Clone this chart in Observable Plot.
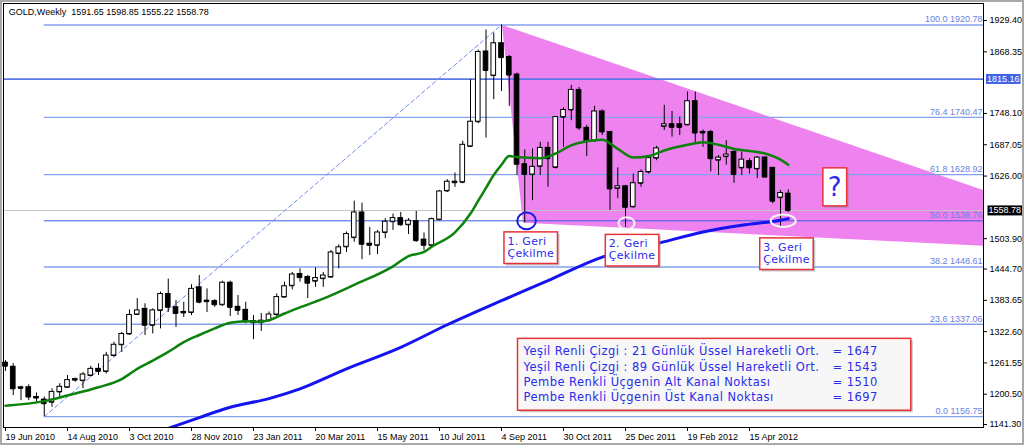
<!DOCTYPE html>
<html><head><meta charset="utf-8">
<script src="https://cdn.jsdelivr.net/npm/d3@7"></script>
<script src="https://cdn.jsdelivr.net/npm/@observablehq/plot@0.6"></script>
<style>
html,body{margin:0;padding:0;background:#fff;}
#chart svg{display:block;outline:2px solid #a8a8a8;outline-offset:-2px;}
</style></head><body><div id="chart"></div>
<script>
// ---------- DATA ----------
const symbolName = "GOLD", timeframe = "Weekly";
const opens = [1262,1254,1212,1214,1195,1190,1185,1205,1214,1228,
 1227,1237,1250,1245,1276,1297,1318,1356,1367,1335,
 1364,1396,1370,1359,1360,1409,1383,1382,1375,1418,
 1371,1365,1343,1340,1344,1356,1390,1412,1435,1429,
 1421,1426,1429,1475,1488,1506,1555,1494,1491,1516,
 1537,1544,1531,1538,1502,1491,1541,1597,1613,1614,
 1684,1732,1869,1822,1885,1858,1824,1649,1629,1645,
 1681,1643,1741,1755,1794,1720,1695,1752,1712,1602,
 1606,1566,1612,1634,1661,1723,1727,1727,1726,1772,
 1710,1712,1657,1664,1673,1642,1655,1640,1662,1642,
 1584,1591.65];
const highs = [1266,1260,1216,1219,1203,1195,1211,1221,1237,1232,
 1243,1255,1260,1282,1302,1321,1365,1387,1377,1367,
 1400,1425,1383,1380,1414,1432,1406,1385,1421,1421,
 1393,1380,1354,1358,1361,1396,1419,1438,1445,1432,
 1447,1438,1481,1492,1517,1577,1573,1526,1520,1543,
 1552,1555,1543,1557,1515,1544,1598,1619,1632,1694,
 1814,1872,1911,1905,1920.78,1861,1827,1677,1679,1692,
 1692,1742,1759,1803,1799,1725,1762,1755,1713,1642,
 1608,1630,1638,1664,1684,1764,1752,1741,1790,1790,
 1716,1715,1666,1695,1676,1673,1660,1664,1664,1643,
 1598,1598.85];
const lows = [1245,1198,1188,1188,1185,1156.75,1175,1192,1213,1224,
 1211,1234,1237,1240,1273,1282,1315,1354,1315,1318,
 1328,1360,1331,1350,1354,1377,1360,1370,1372,1352,
 1354,1338,1307,1323,1341,1352,1388,1404,1419,1387,
 1409,1409,1427,1445,1477,1497,1463,1471,1473,1504,
 1520,1528,1512,1497,1481,1489,1539,1594,1604,1611,
 1682,1728,1700,1775,1791,1762,1627,1535,1578,1627,
 1604,1640,1682,1734,1715,1664,1692,1705,1559,1582,
 1526,1564,1604,1630,1656,1715,1702,1705,1724,1689,
 1682,1634,1627,1647,1612,1627,1630,1621,1622,1572,
 1527,1555.22];
const closes = [1255,1211,1214,1195,1193,1182,1205,1215,1228,1230,
 1239,1250,1245,1276,1297,1318,1355,1364,1335,1364,
 1396,1370,1358,1361,1406,1380,1381,1375,1418,1370,
 1364,1342,1340,1344,1356,1390,1411,1434,1428,1417,
 1427,1432,1477,1487,1513,1555,1493,1491,1516,1537,
 1544,1531,1539,1500,1491,1542,1596,1615,1615,1687,
 1732,1868,1832,1885,1857,1823,1649,1629,1644,1681,
 1660,1741,1755,1794,1720,1694,1752,1712,1601,1606,
 1565,1612,1634,1661,1680,1727,1721,1721,1772,1710,
 1712,1660,1662,1668,1629,1658,1642,1662,1624,1577,
 1593,1558.78];

const dateTickIdx = [0,8,16,24,32,40,48,56,64,72,80,88,96];
const dateLabels = ["19 Jun 2010","14 Aug 2010","3 Oct 2010","28 Nov 2010","23 Jan 2011","20 Mar 2011","15 May 2011","10 Jul 2011","4 Sep 2011","30 Oct 2011","25 Dec 2011","19 Feb 2012","15 Apr 2012"];
const yTicks = [1929.40,1868.35,1748.10,1687.05,1626.00,1503.90,1444.70,1383.65,1322.60,1261.55,1200.50,1141.30];

const fibLevels = [100.0,76.4,61.8,50.0,38.2,23.6,0.0];
const fibPrices = [1920.78,1740.47,1628.92,1538.76,1448.61,1337.06,1156.75];
const fibSwingIdx = [5,64];
const fibSwingPrice = [1156.75,1920.78];
const resistanceLevel = 1815.16;

const triIdx = [64.06,126.3,126.3,66.77];
const triPrice = [1920.78,1598,1490,1535];

const greenIdx = [0,5,8,12,15,17,19,21,23,25,27,29,31,33,34,36,38,41,45,50,52,54,55,58,60,61,62,63,64,65,66,67,69,71,73,75,77,79,81,83,85,88,90,92,94,96,98,99,100,101];
const greenVal = [1178,1187,1198,1214,1230,1250,1266,1283,1302,1316,1329,1340,1343,1342,1345,1358,1370,1387,1414,1450,1470,1478,1488,1516,1553,1578,1603,1628,1648,1665,1663,1662,1661,1670,1686,1694,1697,1679,1662,1665,1676,1687,1692,1687,1679,1675,1670,1665,1658,1648];
const blueIdx = [21,25,29,34,38,44,51,57,64,70,77,84,90,95,100,101];
const blueVal = [1134,1155,1175,1192,1211,1250,1292,1336,1383,1422,1468,1494,1517,1530,1540,1543];

const pullbackIdx = [67,80,100];
const pullbackLabels = ["1. Geri\nÇekilme","2. Geri\nÇekilme","3. Geri\nÇekilme"];
const infoLabels = ["Yeşil Renli Çizgi : 21 Günlük Üssel Hareketli Ort.","Yeşil Renli Çizgi : 89 Günlük Üssel Hareketli Ort.","Pembe Renkli Üçgenin Alt Kanal Noktası","Pembe Renkli Üçgenin Üst Kanal Noktası"];
const infoValues = [1647,1543,1510,1697];
const questionText = "?";

// ---------- BUILD ----------
const candles = opens.map((o,i)=>({i, open:o, high:highs[i], low:lows[i], close:closes[i]}));
const last = candles[candles.length-1];
const fibs = fibLevels.map((l,k)=>({level:l, price:fibPrices[k]}));
const swing = fibSwingIdx.map((x,k)=>({i:x, p:fibSwingPrice[k]}));
const tri = triIdx.map((x,k)=>({i:x, p:triPrice[k]}));
const green = greenIdx.map((x,k)=>({i:x, v:greenVal[k]}));
const blue = blueIdx.map((x,k)=>({i:x, v:blueVal[k]}));
const fib50 = fibPrices[fibLevels.indexOf(50)];
const pullbacks = pullbackIdx.map((x,k)=>({i:x, p:fib50, label:pullbackLabels[k]}));
const header = `${symbolName},${timeframe}  ${last.open.toFixed(2)} ${last.high.toFixed(2)} ${last.low.toFixed(2)} ${last.close.toFixed(2)}`;

const W = 1024, H = 445, mL = 3, mR = 41, mT = 3, mB = 18;
const xMin = -0.258, xMax = 126.19;
const yMin = 1135.6, yMax = 1962.6;
const hw = 0.3;
const annFont = "DejaVu Sans, Verdana, sans-serif";
const annColor = "#2b2bec";

function ellipse(ay){
  return {draw(ctx, size){
    const rx = Math.sqrt(size/Math.PI), ry = rx*ay, k = 0.5523;
    ctx.moveTo(rx,0);
    ctx.bezierCurveTo(rx,ry*k,rx*k,ry,0,ry);
    ctx.bezierCurveTo(-rx*k,ry,-rx,ry*k,-rx,0);
    ctx.bezierCurveTo(-rx,-ry*k,-rx*k,-ry,0,-ry);
    ctx.bezierCurveTo(rx*k,-ry,rx,-ry*k,rx,0);
    ctx.closePath();
  }};
}

const chart = Plot.plot({
  width: W, height: H,
  marginLeft: mL, marginRight: mR, marginTop: mT, marginBottom: mB,
  style: {fontFamily: "'Liberation Sans', Arial, sans-serif", fontSize: "9px", background: "#fff", color: "#000", overflow: "visible"},
  x: {type: "linear", domain: [xMin, xMax]},
  y: {type: "linear", domain: [yMin, yMax]},
  marks: [
    Plot.line(tri, {x: "i", y: "p", fill: "#ee82ee", stroke: "none", clip: true}),
    Plot.ruleY([resistanceLevel], {stroke: "#5b79e6", strokeWidth: 1.6}),
    Plot.ruleY([last.close], {stroke: "#c4c4c4", strokeWidth: 1}),
    Plot.ruleY(fibs, {y: "price", x1: () => fibSwingIdx[0], x2: () => xMax,
      stroke: d => d.level === 50 ? "#3c5ce4" : "#86a0f0", strokeWidth: d => d.level === 50 ? 1 : 1.4}),
    Plot.line(swing, {x: "i", y: "p", stroke: "#6f8eea", strokeWidth: 1, strokeDasharray: "4,3"}),
    Plot.ruleX(candles, {x: "i", y1: "low", y2: "high", stroke: "#000", strokeWidth: 1}),
    Plot.ruleY(candles, {y: "close", x1: d => d.i - hw, x2: d => d.i + hw, stroke: "#000"}),
    Plot.ruleY(candles, {y: "open", x1: d => d.i - hw, x2: d => d.i + hw, stroke: "#000"}),
    Plot.rect(candles, {x1: d => d.i - hw, x2: d => d.i + hw, y1: "open", y2: "close",
      fill: d => d.close >= d.open ? "#fff" : "#000", stroke: "#000", strokeWidth: 1}),
    Plot.line(blue, {x: "i", y: "v", stroke: "#1414f0", strokeWidth: 3, curve: "monotone-x", clip: true}),
    Plot.line(green, {x: "i", y: "v", stroke: "#0b820b", strokeWidth: 2.5, curve: "monotone-x"}),
    Plot.dot(pullbacks.slice(0,1), {x: "i", y: "p", r: 9.3, symbol: ellipse(0.9), dx: 1.8, fill: "none", stroke: "#1a1ae8", strokeWidth: 2}),
    Plot.dot(pullbacks.slice(1,2), {x: "i", y: "p", r: 8, symbol: ellipse(0.75), dx: 1, dy: 2.4, fill: "none", stroke: "#f4f4f4", strokeWidth: 2}),
    Plot.dot(pullbacks.slice(2,3), {x: "i", y: "p", r: 12.5, symbol: ellipse(0.5), dx: 2.7, fill: "none", stroke: "#f4f4f4", strokeWidth: 2}),
    Plot.text(pullbacks.slice(0,1), {x: "i", y: "p", text: "label", dx: -17.3, dy: 15.5, textAnchor: "start", lineAnchor: "top", lineHeight: 1.1, fontSize: 11, fontFamily: annFont, fill: annColor, ariaDescription: "callout"}),
    Plot.text(pullbacks.slice(1,2), {x: "i", y: "p", text: "label", dx: -16.7, dy: 18, textAnchor: "start", lineAnchor: "top", lineHeight: 1.1, fontSize: 11, fontFamily: annFont, fill: annColor, ariaDescription: "callout"}),
    Plot.text(pullbacks.slice(2,3), {x: "i", y: "p", text: "label", dx: -17.3, dy: 21.5, textAnchor: "start", lineAnchor: "top", lineHeight: 1.1, fontSize: 11, fontFamily: annFont, fill: annColor, ariaDescription: "callout"}),
    Plot.text([last], {x: "i", y: "close", text: () => questionText, dx: 46.5, dy: -23, textAnchor: "middle", lineAnchor: "middle", fontSize: 26, fontFamily: annFont, fill: annColor, ariaDescription: "qbox"}),
    Plot.text([infoLabels.join("\n")], {frameAnchor: "top-left", dx: 520, dy: 341, textAnchor: "start", lineAnchor: "top", lineHeight: 1.33, fontSize: 11.5, fontFamily: annFont, fill: annColor, ariaDescription: "info"}),
    Plot.text([infoValues.map(v => "= " + v).join("\n")], {frameAnchor: "top-left", dx: 829, dy: 341, textAnchor: "start", lineAnchor: "top", lineHeight: 1.33, fontSize: 11.5, fontFamily: annFont, fill: annColor, ariaDescription: "info"}),
    Plot.text(fibs, {y: "price", text: d => `${d.level.toFixed(1)} ${d.price.toFixed(2)}`, frameAnchor: "right", textAnchor: "end", dx: -1, dy: -5.5, fill: "#6880e4", fontSize: 9}),
    Plot.text([header], {frameAnchor: "top-left", dx: 5.3, dy: 5.3, textAnchor: "start", lineAnchor: "top", fontSize: 9, fill: "#000"}),
    Plot.axisY(yTicks, {anchor: "right", tickSize: 3, tickPadding: 3, tickFormat: d => d.toFixed(2), label: null}),
    Plot.axisX(dateTickIdx, {anchor: "bottom", tickSize: 4, tickPadding: 2, textAnchor: "start", tickFormat: d => dateLabels[dateTickIdx.indexOf(d)], label: null}),
    Plot.text([resistanceLevel], {y: d => d, text: d => d.toFixed(2), frameAnchor: "right", textAnchor: "start", dx: 3.5, fill: "#fff", fontSize: 9, ariaDescription: "tagblue"}),
    Plot.text([last.close], {y: d => d, text: d => d.toFixed(2), frameAnchor: "right", textAnchor: "start", dx: 5, fill: "#fff", fontSize: 9, ariaDescription: "tagblack"}),
    Plot.frame({stroke: "#000", strokeWidth: 1})
  ]
});
document.getElementById("chart").appendChild(chart);

// ---------- boxes behind annotation texts ----------
const NS = "http://www.w3.org/2000/svg";
function boxify(label, opt){
  const svg = chart.tagName.toLowerCase() === "svg" ? chart : chart.querySelector("svg");
  const sr = svg.getBoundingClientRect();
  const groups = Array.from(svg.querySelectorAll(`g[aria-description="${label}"]`));
  if (!groups.length) return;
  if (opt.ls) groups.forEach(g => g.setAttribute("letter-spacing", opt.ls));
  let sets = [];
  if (opt.union) sets = [groups.flatMap(g => Array.from(g.querySelectorAll("text")))];
  else groups.forEach(g => g.querySelectorAll("text").forEach(t => sets.push([t])));
  const layer = document.createElementNS(NS, "g");
  groups[0].parentNode.insertBefore(layer, groups[0]);
  sets.forEach(ts => {
    let x0 = Infinity, y0 = Infinity, x1 = -Infinity, y1 = -Infinity;
    ts.forEach(t => { const b = t.getBoundingClientRect();
      x0 = Math.min(x0, b.left - sr.left); y0 = Math.min(y0, b.top - sr.top);
      x1 = Math.max(x1, b.right - sr.left); y1 = Math.max(y1, b.bottom - sr.top); });
    const bx = x0 - opt.l, by = y0 - opt.t, bw = x1 - x0 + opt.l + opt.r, bh = y1 - y0 + opt.t + opt.b;
    if (opt.shadow) {
      const s = document.createElementNS(NS, "rect");
      s.setAttribute("x", bx + 2); s.setAttribute("y", by + 2);
      s.setAttribute("width", bw); s.setAttribute("height", bh);
      s.setAttribute("fill", "#8c8c8c"); s.setAttribute("fill-opacity", 0.5);
      layer.appendChild(s);
    }
    const r = document.createElementNS(NS, "rect");
    r.setAttribute("x", bx); r.setAttribute("y", by);
    r.setAttribute("width", bw); r.setAttribute("height", bh);
    r.setAttribute("fill", opt.fill);
    if (opt.stroke) { r.setAttribute("stroke", opt.stroke); r.setAttribute("stroke-width", opt.sw || 1.5); }
    layer.appendChild(r);
  });
}
boxify("callout", {l: 3.5, r: 3.5, t: 3, b: 3.5, fill: "#fff", stroke: "#e8323a", sw: 1.5, shadow: true, ls: 0.3});
boxify("info", {l: 5, r: 33, t: 4, b: 6, fill: "#f7f7f7", stroke: "#e8323a", sw: 1.5, shadow: true, union: true, ls: 0.45});
boxify("qbox", {l: 5, r: 5, t: 4, b: 4, fill: "#fff", stroke: "#e8323a", sw: 1.5, shadow: true});
boxify("tagblue", {l: 1, r: 1, t: 0, b: 0, fill: "#3f63e2"});
boxify("tagblack", {l: 1, r: 1, t: 0, b: 0, fill: "#000"});
</script></body></html>
